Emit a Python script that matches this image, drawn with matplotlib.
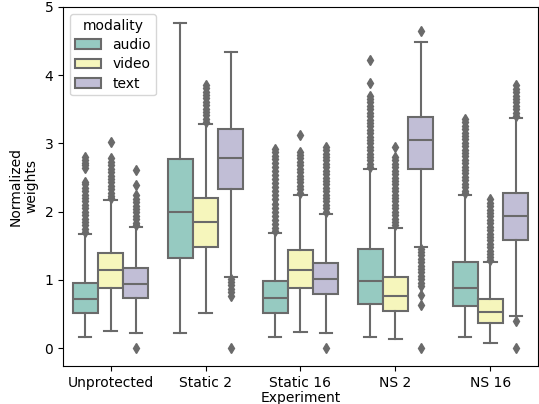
import colorsys
import numpy as np
import matplotlib
matplotlib.use("Agg")
import matplotlib.pyplot as plt
from matplotlib.patches import Patch

# categories
experiments = ["Unprotected", "Static 2", "Static 16", "NS 2", "NS 16"]
modalities = ["audio", "video", "text"]

# box statistics per modality (one value per experiment)
audio_q1 = [0.51, 1.32, 0.51, 0.65, 0.62]
audio_med = [0.72, 1.99, 0.74, 0.99, 0.89]
audio_q3 = [0.96, 2.77, 0.98, 1.45, 1.27]
audio_lo = [0.16, 0.22, 0.16, 0.16, 0.16]
audio_hi = [1.68, 4.76, 1.69, 2.62, 2.24]

video_q1 = [0.89, 1.49, 0.89, 0.55, 0.37]
video_med = [1.14, 1.85, 1.15, 0.77, 0.53]
video_q3 = [1.39, 2.20, 1.44, 1.05, 0.72]
video_lo = [0.26, 0.51, 0.24, 0.14, 0.07]
video_hi = [2.17, 3.29, 2.24, 1.76, 1.27]

text_q1 = [0.74, 2.33, 0.79, 2.63, 1.58]
text_med = [0.94, 2.78, 1.01, 3.05, 1.93]
text_q3 = [1.17, 3.21, 1.25, 3.39, 2.28]
text_lo = [0.22, 1.05, 0.22, 1.49, 0.47]
text_hi = [1.78, 4.34, 1.96, 4.48, 3.37]

# outliers
audio_fliers = [
    [2.80, 2.76, 2.72, 2.68, 2.64, 2.44, 2.40, 2.35, 2.30, 2.25, 2.20, 2.15,
     2.10, 2.05, 2.00, 1.95, 1.90, 1.85, 1.80, 1.75, 1.71],
    [],
    [2.92, 2.87, 2.82, 2.77, 2.72, 2.66, 2.60, 2.54, 2.48, 2.42, 2.36, 2.30,
     2.24, 2.18, 2.12, 2.06, 2.00, 1.94, 1.88, 1.82, 1.76, 1.72],
    [4.22, 3.88, 3.70, 3.65, 3.60, 3.55, 3.50, 3.45, 3.40, 3.35, 3.30, 3.25,
     3.20, 3.15, 3.10, 3.05, 3.00, 2.95, 2.90, 2.85, 2.80, 2.75, 2.70, 2.66],
    [3.36, 3.31, 3.26, 3.21, 3.16, 3.11, 3.06, 3.01, 2.96, 2.91, 2.86, 2.81,
     2.76, 2.71, 2.66, 2.61, 2.56, 2.51, 2.46, 2.41, 2.36, 2.31, 2.27],
]
video_fliers = [
    [3.02, 2.78, 2.73, 2.68, 2.63, 2.58, 2.53, 2.48, 2.43, 2.38, 2.33, 2.28,
     2.23, 2.20],
    [3.86, 3.81, 3.76, 3.71, 3.66, 3.61, 3.56, 3.51, 3.46, 3.41, 3.36, 3.32],
    [3.12, 2.88, 2.83, 2.78, 2.73, 2.68, 2.63, 2.58, 2.53, 2.48, 2.43, 2.38,
     2.33, 2.28],
    [2.95, 2.80, 2.75, 2.70, 2.65, 2.60, 2.55, 2.50, 2.45, 2.40, 2.35, 2.30,
     2.25, 2.20, 2.15, 2.10, 2.05, 2.00, 1.95, 1.90, 1.85, 1.80],
    [2.18, 2.13, 2.08, 2.03, 1.98, 1.93, 1.88, 1.83, 1.78, 1.73, 1.68, 1.63,
     1.58, 1.53, 1.48, 1.43, 1.38, 1.34, 1.30],
]
text_fliers = [
    [2.61, 2.39, 2.24, 2.19, 2.14, 2.09, 2.04, 1.99, 1.94, 1.89, 1.84, 1.80,
     0.0],
    [1.02, 0.97, 0.92, 0.87, 0.82, 0.77, 0.0],
    [2.95, 2.90, 2.85, 2.80, 2.75, 2.70, 2.65, 2.60, 2.55, 2.50, 2.45, 2.40,
     2.35, 2.30, 2.25, 2.20, 2.15, 2.10, 2.05, 2.00, 0.0],
    [4.64, 1.46, 1.41, 1.36, 1.31, 1.26, 1.21, 1.16, 1.11, 1.06, 1.01, 0.96,
     0.91, 0.78, 0.64, 0.0],
    [3.85, 3.80, 3.75, 3.70, 3.65, 3.60, 3.55, 3.50, 3.45, 3.40, 0.40, 0.0],
]

q1s = [audio_q1, video_q1, text_q1]
meds = [audio_med, video_med, text_med]
q3s = [audio_q3, video_q3, text_q3]
los = [audio_lo, video_lo, text_lo]
his = [audio_hi, video_hi, text_hi]
fliers = [audio_fliers, video_fliers, text_fliers]

# Set3 colours, desaturated like seaborn does (saturation=0.75)
base = ["#8dd3c7", "#ffffb3", "#bebada"]
colors = []
for c in base:
    r, g, b = matplotlib.colors.to_rgb(c)
    h, l, s = colorsys.rgb_to_hls(r, g, b)
    colors.append(colorsys.hls_to_rgb(h, l, s * 0.75))
gray = "#6a6a6a"

fig = plt.figure(figsize=(5.39, 4.04), dpi=100)
ax = fig.add_axes([0.117, 0.094, 0.881, 0.889])

n = len(modalities)
each = 0.8 / n
for m in range(n):
    stats = []
    for i in range(len(experiments)):
        stats.append(dict(med=meds[m][i], q1=q1s[m][i], q3=q3s[m][i],
                          whislo=los[m][i], whishi=his[m][i],
                          fliers=np.array(fliers[m][i])))
    pos = np.arange(len(experiments)) - 0.4 + each * (m + 0.5)
    ax.bxp(stats, positions=pos, widths=each * 0.98, patch_artist=True,
           manage_ticks=False,
           boxprops=dict(facecolor=colors[m], edgecolor=gray, linewidth=1.5),
           medianprops=dict(color=gray, linewidth=1.5),
           whiskerprops=dict(color=gray, linewidth=1.5),
           capprops=dict(color=gray, linewidth=1.5),
           flierprops=dict(marker="d", markersize=5, markerfacecolor=gray,
                           markeredgecolor=gray, linestyle="none"))

ax.set_xticks(range(len(experiments)))
ax.set_xticklabels(experiments)
ax.set_xlim(-0.5, len(experiments) - 0.5)
ax.set_ylim(-0.26, 5.0)
ax.set_xlabel("Experiment", labelpad=1)
ax.set_ylabel("Normalized\nweights")

handles = [Patch(facecolor=colors[m], edgecolor=gray, linewidth=1.5, label=modalities[m])
           for m in range(n)]
ax.legend(handles=handles, title="modality", loc="upper left",
          labelspacing=0.38, handlelength=1.9, borderpad=0.35)

fig.savefig("out.png", dpi=100)
